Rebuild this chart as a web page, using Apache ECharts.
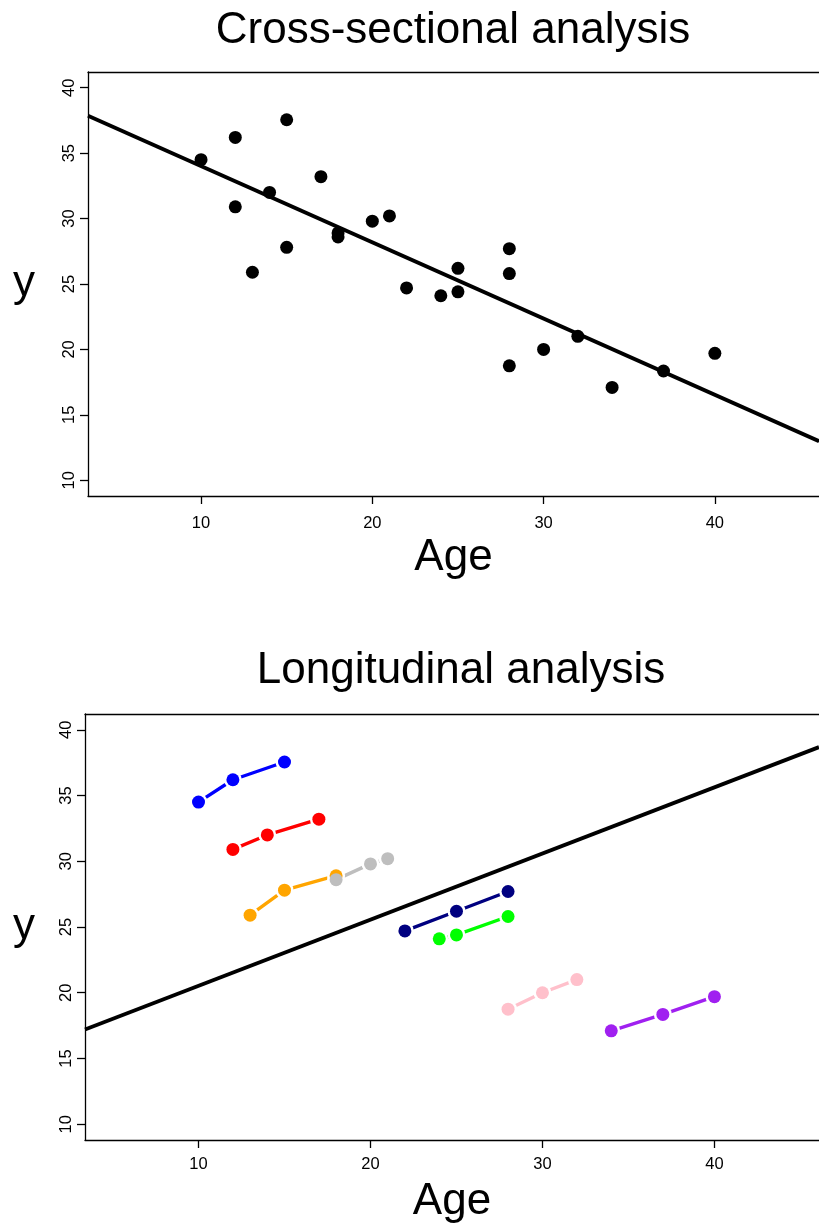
<!DOCTYPE html>
<html>
<head>
<meta charset="utf-8">
<script src="https://cdn.jsdelivr.net/npm/echarts@6/dist/echarts.min.js"></script>
<style>
  html, body { margin: 0; padding: 0; background: #fff; }
  #main { width: 819px; height: 1226px; }
</style>
</head>
<body>
<div id="main"></div>
<script>
// three visits per subject: age and y
const subjectAges = [
  [10, 12, 15], [12, 14, 17], [13, 15, 18], [18, 20, 21],
  [22, 25, 28], [24, 25, 28], [28, 30, 32], [34, 37, 40]
];
const subjectY = [
  [34.5, 36.2, 37.55], [30.9, 32.0, 33.2], [25.9, 27.8, 28.9], [28.6, 29.8, 30.2],
  [24.7, 26.2, 27.7], [24.1, 24.4, 25.8], [18.75, 20.0, 21.0], [17.1, 18.35, 19.7]
];
const subjectColors = ['#0000FF', '#FF0000', '#FFA500', '#BEBEBE', '#000080', '#00FF00', '#FFC0CB', '#A020F0'];

// fitted lines, read at the plot edges
const crossFitAge = [3.4, 46.08];
const crossFitY = [37.85, 12.99];
const longFitAge = [3.4, 46.08];
const longFitY = [17.21, 38.68];

const ageTicks = [10, 20, 30, 40];
const yTicks = [10, 15, 20, 25, 30, 35, 40];

const font = 'Liberation Sans, Arial, Helvetica, sans-serif';
const AGE_MIN = 3.4, AGE_MAX = 46.08;

function pairs(xs, ys) {
  return xs.map((x, i) => [x, ys[i]]);
}

function xAxisFor(gridIndex, labelMargin) {
  return {
    type: 'value', gridIndex: gridIndex, min: AGE_MIN, max: AGE_MAX, position: 'bottom',
    name: 'Age', nameLocation: 'middle', nameGap: 40,
    nameTextStyle: { fontSize: 44, color: '#000', fontFamily: font },
    axisLine: { show: true, lineStyle: { color: '#000', width: 1.3 } },
    splitLine: { show: false },
    axisTick: { show: true, length: 8, customValues: ageTicks, lineStyle: { color: '#000', width: 1.3 } },
    axisLabel: { customValues: ageTicks, margin: labelMargin, fontSize: 16.5, color: '#000', fontFamily: font }
  };
}

// plain top border of the box
function topAxisFor(gridIndex) {
  return {
    type: 'value', gridIndex: gridIndex, min: AGE_MIN, max: AGE_MAX, position: 'top',
    axisLine: { show: true, lineStyle: { color: '#000', width: 1.3 } },
    axisTick: { show: false }, axisLabel: { show: false }, splitLine: { show: false }
  };
}

function yAxisFor(gridIndex, nameGap) {
  return {
    type: 'value', gridIndex: gridIndex, min: 8.8, max: 41.2,
    name: 'y', nameLocation: 'middle', nameRotate: 0, nameGap: nameGap,
    nameTextStyle: { fontSize: 44, color: '#000', fontFamily: font },
    axisLine: { show: true, lineStyle: { color: '#000', width: 1.3 } },
    splitLine: { show: false },
    axisTick: { show: true, length: 8, customValues: yTicks, lineStyle: { color: '#000', width: 1.3 } },
    axisLabel: { customValues: yTicks, rotate: 90, margin: 10, fontSize: 16.5, color: '#000', fontFamily: font }
  };
}

const series = [];

// top: cross-sectional
series.push({
  type: 'line', xAxisIndex: 0, yAxisIndex: 0,
  data: pairs(crossFitAge, crossFitY),
  symbol: 'none', lineStyle: { color: '#000', width: 3.8 }
});
series.push({
  type: 'scatter', xAxisIndex: 0, yAxisIndex: 0, z: 3,
  data: subjectAges.flatMap((ages, s) => pairs(ages, subjectY[s])),
  symbolSize: 13, itemStyle: { color: '#000', opacity: 1 }
});

// bottom: longitudinal
series.push({
  type: 'line', xAxisIndex: 1, yAxisIndex: 1,
  data: pairs(longFitAge, longFitY),
  symbol: 'none', lineStyle: { color: '#000', width: 3.8 }
});
subjectAges.forEach((ages, s) => {
  // connecting line with white gaps round each visit
  series.push({
    type: 'line', xAxisIndex: 1, yAxisIndex: 1, z: 2,
    data: pairs(ages, subjectY[s]),
    symbol: 'circle', symbolSize: 18, showSymbol: true,
    itemStyle: { color: '#fff', borderWidth: 0 },
    lineStyle: { color: subjectColors[s], width: 3.4 }
  });
});
subjectAges.forEach((ages, s) => {
  series.push({
    type: 'scatter', xAxisIndex: 1, yAxisIndex: 1, z: 5,
    data: pairs(ages, subjectY[s]),
    symbolSize: 13, itemStyle: { color: subjectColors[s], opacity: 1 }
  });
});

const chart = echarts.init(document.getElementById('main'));

chart.setOption({
  animation: false,
  backgroundColor: '#fff',
  title: [
    { text: 'Cross-sectional analysis', left: 448, top: 4, textAlign: 'center',
      textStyle: { fontSize: 44, fontWeight: 'normal', color: '#000', fontFamily: font } },
    { text: 'Longitudinal analysis', left: 456, top: 644, textAlign: 'center',
      textStyle: { fontSize: 44, fontWeight: 'normal', color: '#000', fontFamily: font } }
  ],
  grid: [
    { left: 88, top: 72, right: 0, height: 424 },
    { left: 85, top: 714, right: 0, height: 426 }
  ],
  xAxis: [xAxisFor(0, 19), xAxisFor(1, 16), topAxisFor(0), topAxisFor(1)],
  yAxis: [yAxisFor(0, 53), yAxisFor(1, 50)],
  series: series
});
</script>
</body>
</html>
